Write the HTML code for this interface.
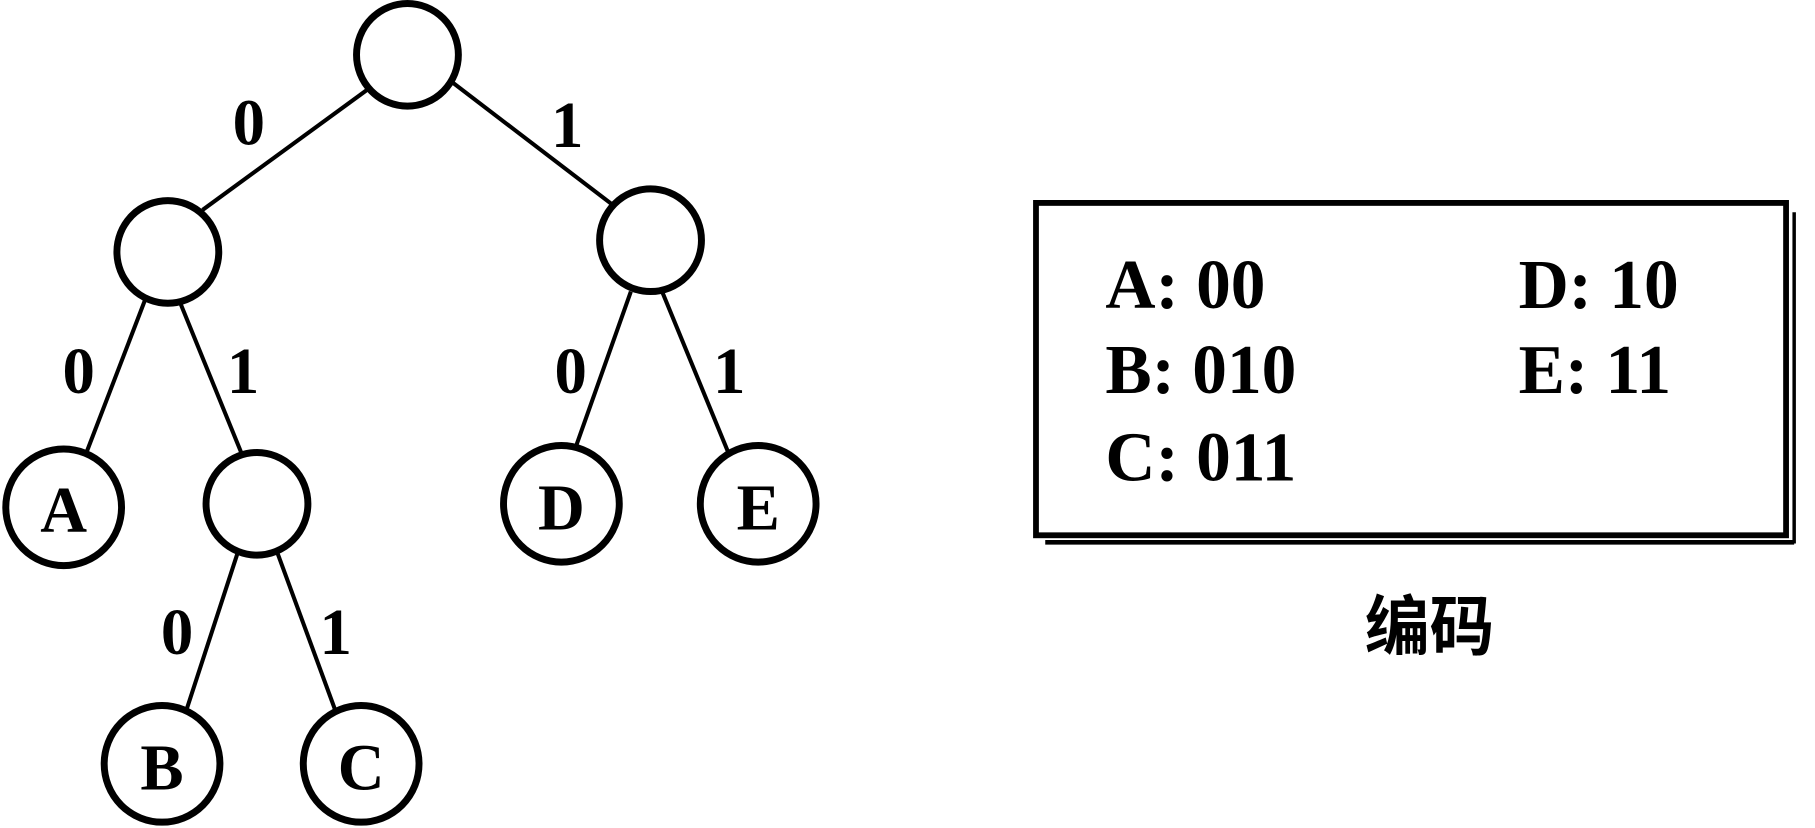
<!DOCTYPE html>
<html><head><meta charset="utf-8"><style>
html,body{margin:0;padding:0;background:#fff;width:1815px;height:828px;overflow:hidden}
svg{display:block}
text{font-family:"Liberation Serif","Noto Serif CJK SC",serif;font-weight:bold;fill:#000}
</style></head><body>
<svg width="1815" height="828" viewBox="0 0 1568 710" preserveAspectRatio="none">
<g stroke="#000" stroke-width="3.5" fill="none">
<line x1="320" y1="75" x2="175" y2="180"/>
<line x1="390" y1="70" x2="535" y2="180"/>
<line x1="125" y1="258" x2="72" y2="395"/>
<line x1="155" y1="258" x2="210" y2="392"/>
<line x1="545" y1="250" x2="495" y2="390"/>
<line x1="572" y1="250" x2="630" y2="390"/>
<line x1="205" y1="475" x2="160" y2="612"/>
<line x1="240" y1="475" x2="290" y2="610"/>
</g>
<g stroke="#000" stroke-width="6" fill="#fff">
<circle cx="352" cy="47" r="44"/>
<circle cx="145" cy="216" r="44"/>
<circle cx="562" cy="206" r="44"/>
<circle cx="55" cy="435" r="50"/>
<circle cx="222" cy="432" r="44"/>
<circle cx="485" cy="432" r="50"/>
<circle cx="655" cy="432" r="50"/>
<circle cx="140" cy="655" r="50"/>
<circle cx="312" cy="655" r="50"/>
</g>
<g font-size="56" text-anchor="middle">
<text x="55" y="456">A</text>
<text x="485" y="454">D</text>
<text x="655" y="454">E</text>
<text x="140" y="677">B</text>
<text x="312" y="677">C</text>
<text x="215" y="124">0</text>
<text x="490" y="126">1</text>
<text x="68" y="337">0</text>
<text x="210" y="337">1</text>
<text x="493" y="337">0</text>
<text x="630" y="337">1</text>
<text x="153" y="561">0</text>
<text x="290" y="561">1</text>
</g>
<g fill="none" stroke="#000">
<rect x="895" y="174" width="648" height="285" stroke-width="5"/>
<line x1="1550" y1="182" x2="1550" y2="466" stroke-width="3"/>
<line x1="903" y1="465" x2="1550" y2="465" stroke-width="4"/>
</g>
<g font-size="60">
<text x="955" y="264">A: 00</text>
<text x="1312" y="264">D: 10</text>
<text x="955" y="337">B: 010</text>
<text x="1312" y="337">E: 11</text>
<text x="955" y="412">C: 011</text>
</g>
<text x="1235" y="557" font-size="56" text-anchor="middle" style="font-family:'Noto Sans CJK SC',sans-serif;font-weight:bold">编码</text>
</svg>
</body></html>
